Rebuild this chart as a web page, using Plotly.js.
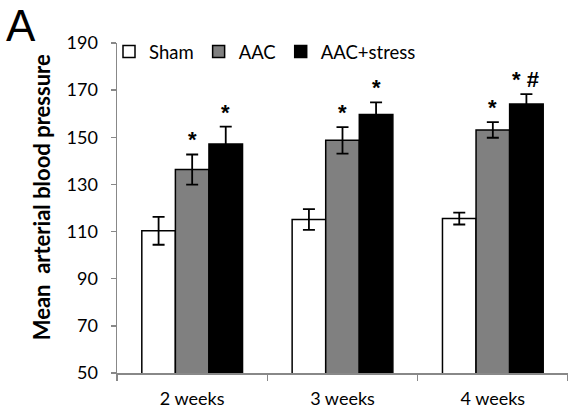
<!DOCTYPE html>
<html><head><meta charset="utf-8">
<script src="https://cdn.plot.ly/plotly-3.0.1.min.js"></script>
<style>html,body{margin:0;padding:0;background:#fff}#chart{width:568px;height:416px}</style>
</head><body><div id="chart"></div>
<script>
const categories = ["2 weeks", "3 weeks", "4 weeks"];
const seriesNames = ["Sham", "AAC", "AAC+stress"];
const sham = [110.3, 115.1, 115.5];
const shamErr = [5.9, 4.4, 2.5];
const aac = [136.3, 148.7, 153.1];
const aacErr = [6.4, 5.6, 3.3];
const stress = [147.1, 159.7, 164.1];
const stressErr = [7.4, 5.1, 4.2];
const aacMarks = ["*", "*", "*"];
const stressMarks = ["*", "*", "* #"];

const colors = ["#ffffff", "#808080", "#000000"];
const vals = [sham, aac, stress];
const errs = [shamErr, aacErr, stressErr];

const traces = seriesNames.map((n, i) => ({
  type: "bar", name: n, x: categories, y: vals[i],
  marker: {color: colors[i], line: {color: "#000", width: 1.5}},
  error_y: {type: "data", array: errs[i], visible: true, color: "#000", thickness: 1.8, width: 6}
}));

const W = 568, H = 416;
const L = 117, R = 0, T = 43, B = 43;
const plotW = W - L - R, plotH = H - T - B;
const bargap = 0.33;
const catW = plotW / categories.length;
const barW = (1 - bargap) * catW / 3;
const legendLeft = 109;

const annotations = [];
[[1, aacMarks], [2, stressMarks]].forEach(([s, marks]) => {
  categories.forEach((c, j) => {
    annotations.push({
      x: c, xref: "x", y: vals[s][j] + errs[s][j], yref: "y",
      text: marks[j], showarrow: false, yanchor: "bottom",
      xshift: (s - 1) * barW + (marks[j].length > 1 ? -1 : 0), yshift: 0,
      font: {family: "Liberation Sans, Arial", size: 22, color: "#000", weight: "bold"}
    });
  });
});
annotations.push({
  xref: "paper", yref: "paper", x: (5 - L) / plotW, y: 1 + T / plotH,
  xanchor: "left", yanchor: "top", showarrow: false, text: "A", borderpad: 0,
  font: {family: "Liberation Sans, Arial", size: 44, color: "#000"}
});

const layout = {
  width: W, height: H,
  margin: {l: L, r: R, t: T, b: B, pad: 0},
  paper_bgcolor: "#fff", plot_bgcolor: "#fff",
  barmode: "group", bargap: bargap, bargroupgap: 0,
  showlegend: true,
  legend: {orientation: "h", x: 0.3, y: 1 - (52 - T) / plotH,
    xanchor: "center", yanchor: "middle",
    font: {family: "Lato, Open Sans, sans-serif", size: 18.5, color: "#000"},
    itemwidth: 30, tracegroupgap: 0, bgcolor: "rgba(0,0,0,0)"},
  font: {family: "Lato, Open Sans, sans-serif", color: "#000"},
  xaxis: {type: "category", showline: true, linecolor: "#888", linewidth: 1.5,
    ticks: "outside", tickson: "boundaries", ticklen: 6, tickcolor: "#888", tickwidth: 1.5,
    tickfont: {size: 18, color: "#000"}, ticklabelstandoff: 9, showgrid: false, zeroline: false},
  yaxis: {range: [50, 190], dtick: 20, tick0: 50, showline: true, linecolor: "#888", linewidth: 1.5,
    ticks: "outside", ticklen: 5, tickcolor: "#888", tickwidth: 1.5, ticklabelstandoff: 9,
    tickfont: {size: 18, color: "#000"}, showgrid: false, zeroline: false,
    title: {text: "&nbsp;&nbsp;&nbsp;&nbsp;Mean  arterial blood pressure", standoff: 10,
      font: {family: "Lato, Open Sans, sans-serif", size: 22, color: "#000", weight: "bold"}}},
  annotations: annotations
};
Plotly.newPlot("chart", traces, layout, {displayModeBar: false, staticPlot: true}).then(gd => {
  const lw = gd._fullLayout.legend._width;
  if (lw) return Plotly.relayout(gd, {"legend.x": (legendLeft - L + lw / 2) / plotW});
});
</script></body></html>
